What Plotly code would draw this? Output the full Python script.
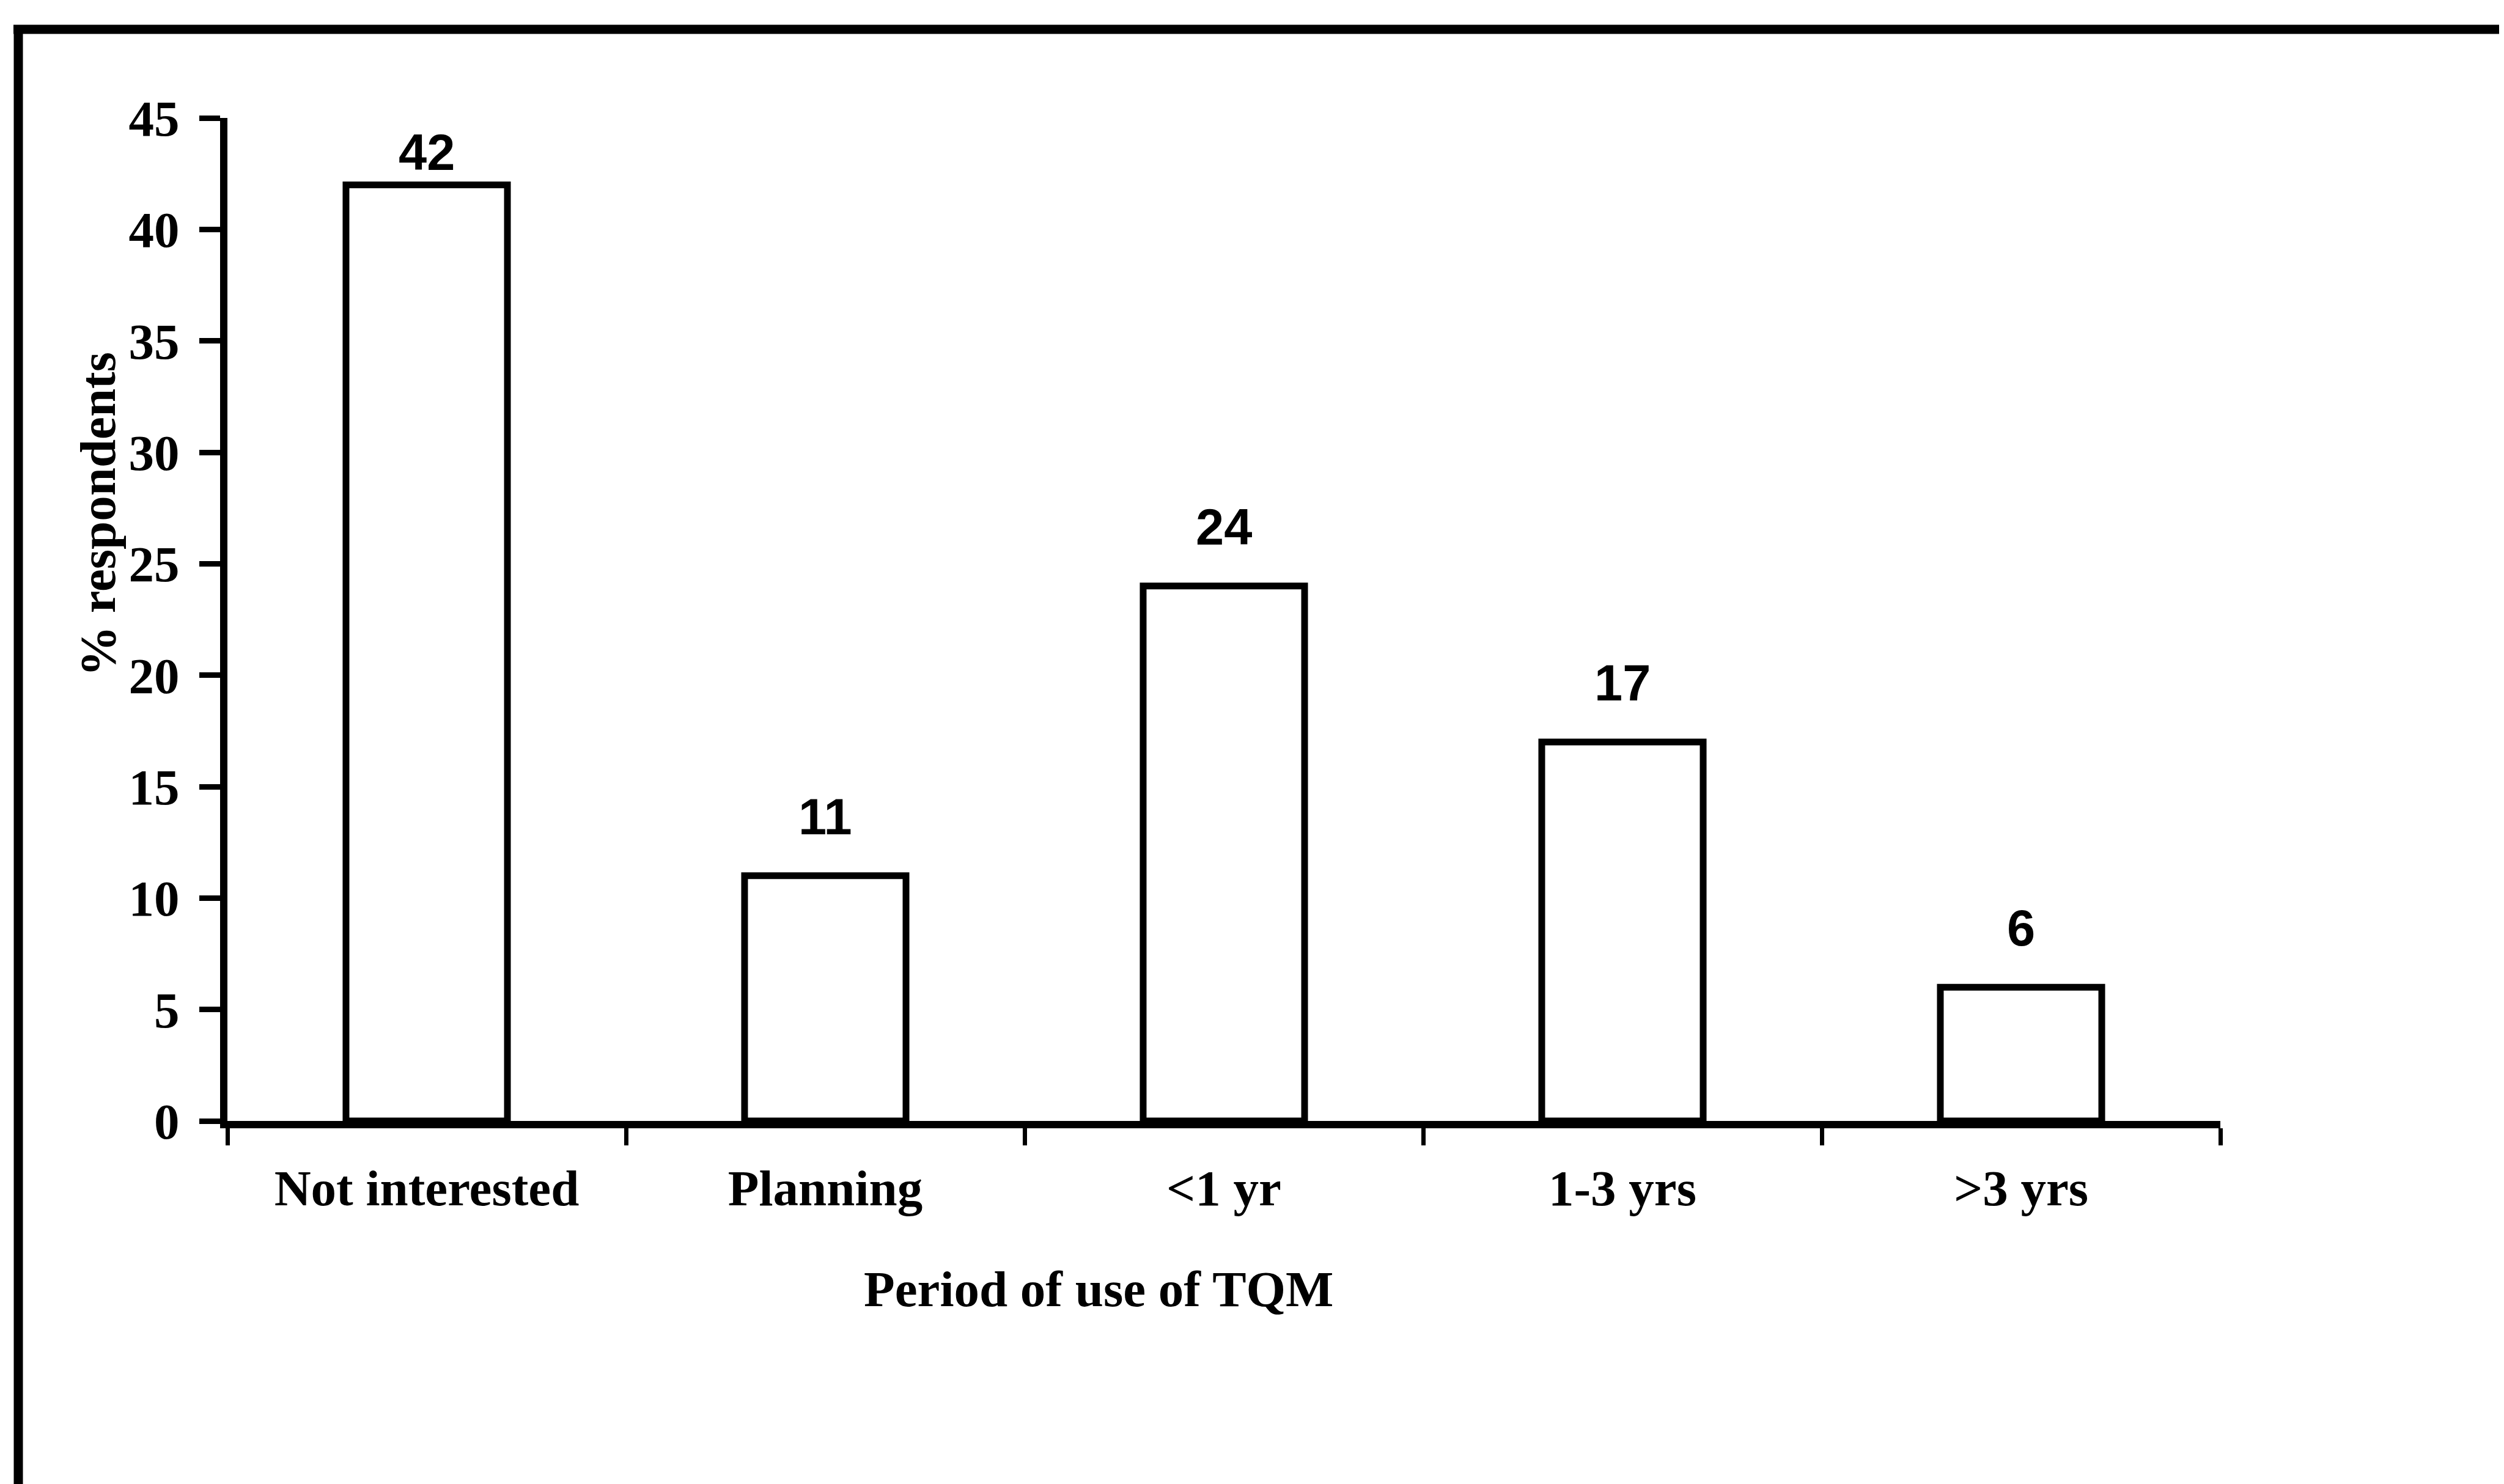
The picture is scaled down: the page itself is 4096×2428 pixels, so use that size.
import plotly.graph_objects as go

# ---- data ----
categories = ["Not interested", "Planning", "<1 yr", "1-3 yrs", ">3 yrs"]
values = [42, 11, 24, 17, 6]
y_ticks = [0, 5, 10, 15, 20, 25, 30, 35, 40, 45]
x_title = "Period of use of TQM"
y_title = "% respondents"

# ---- layout constants (pixels, already scaled by 0.944) ----
W, H = 4096, 2428
L, R, T, B = 364, 3624, 185, 1826
PW, PH = R - L, B - T

serif = "Liberation Serif"
sans = "Liberation Sans"

def px_x(p):
    return (p - L) / PW

def px_y(p):
    return (B - p) / PH

fig = go.Figure()
fig.add_trace(go.Bar(
    x=categories,
    y=values,
    width=0.405,
    marker=dict(color="white", line=dict(color="black", width=11)),
    cliponaxis=False,
    showlegend=False,
))

# value labels above bars
ymax = y_ticks[-1]
for cat, v in zip(categories, values):
    fig.add_annotation(
        x=cat, y=min(v + 2.65, ymax - 1.55), xref="x", yref="y",
        text=str(v), showarrow=False,
        font=dict(family=sans, size=83, color="black", weight="bold"),
        xanchor="center", yanchor="middle",
    )

# axis titles
fig.add_annotation(
    x=1.685, y=px_y(2101), xref="x", yref="paper",
    text=x_title, showarrow=False,
    font=dict(family=serif, size=83, color="black", weight="bold"),
    xanchor="center", yanchor="middle",
)
fig.add_annotation(
    x=px_x(152), y=27.2, xref="paper", yref="y",
    text=y_title, showarrow=False, textangle=-90,
    font=dict(family=serif, size=83, color="black", weight="bold"),
    xanchor="center", yanchor="middle",
)

# outer frame (top, left, thin right)
fig.add_shape(type="line", xref="paper", yref="paper",
              x0=px_x(14), x1=px_x(W), y0=px_y(40), y1=px_y(40),
              line=dict(color="black", width=15))
fig.add_shape(type="line", xref="paper", yref="paper",
              x0=px_x(22), x1=px_x(22), y0=px_y(33), y1=px_y(H),
              line=dict(color="black", width=15))
fig.add_shape(type="line", xref="paper", yref="paper",
              x0=px_x(4094), x1=px_x(4094), y0=px_y(40), y1=px_y(415),
              line=dict(color="#555555", width=2))

fig.update_layout(
    width=W, height=H,
    margin=dict(l=L, r=W - R, t=T, b=H - B, pad=0),
    paper_bgcolor="white", plot_bgcolor="white",
    bargap=0.6,
)
fig.update_xaxes(
    type="category",
    range=[-0.5, len(categories) - 0.5],
    showline=True, linecolor="black", linewidth=12,
    ticks="outside", tickson="boundaries", ticklen=28, tickwidth=7, tickcolor="black",
    tickfont=dict(family=serif, size=83, color="black", weight="bold"),
    ticklabelstandoff=26,
    showgrid=False, zeroline=False,
)
fig.update_yaxes(
    range=[0, ymax],
    tickmode="array", tickvals=y_ticks,
    showline=True, linecolor="black", linewidth=12,
    ticks="outside", ticklen=34, tickwidth=9, tickcolor="black",
    tickfont=dict(family=serif, size=83, color="black", weight="bold"),
    ticklabelstandoff=16,
    showgrid=False, zeroline=False,
)

fig.write_html("out.html")
